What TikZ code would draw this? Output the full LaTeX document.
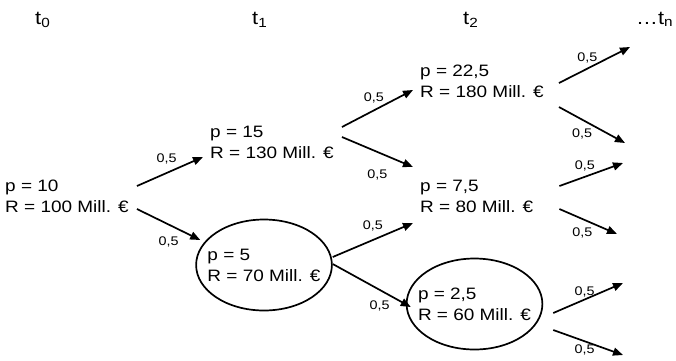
\documentclass[tikz,border=0pt]{standalone}
\usepackage{fontspec}
\setmainfont{Liberation Sans}[FakeStretch=1.15]
\usetikzlibrary{shapes.geometric, arrows.meta}
\tikzstyle{state} = [align=left, inner sep=0pt, anchor=west, font=\fontsize{16.5}{21}\selectfont]
\tikzstyle{chance} = [ellipse, draw=black, line width=1.7pt, minimum height=91pt, inner xsep=-8.5pt, inner ysep=0pt, align=left, font=\fontsize{16.5}{21}\selectfont]
\tikzstyle{period} = [anchor=base west, inner sep=0pt, font=\fontsize{19}{21}\selectfont]
\tikzstyle{prob} = [inner sep=2pt, font=\fontsize{12.5}{14}\selectfont]
\tikzstyle{arrow} = [line width=1.7pt,->,>={Triangle[length=10pt,width=8pt]}]

\begin{document}
\begin{tikzpicture}[x=1pt, y=-1pt]
		\useasboundingbox (0,0) rectangle (676,360);
		% Time steps
		\node (t0) [period] at (35,24) {t\textsubscript{0}};
		\node (t1) [period] at (252,24) {t\textsubscript{1}};
		\node (t2) [period] at (463,24) {t\textsubscript{2}};
		\node (tn) [period] at (636,24) {…t\textsubscript{n}};

		% States
		\node (root) [state] at (5,196.6) {p = 10\\R = 100 Mill. €};
		\node (up) [state] at (210,142) {p = 15\\R = 130 Mill. €};
		\node (down) [chance] at (264,265) {p = 5\\R = 70 Mill. €};
		\node (upup) [state] at (420,81.6) {p = 22,5\\R = 180 Mill. €};
		\node (mid) [state] at (420,196.6) {p = 7,5\\R = 80 Mill. €};
		\node (downdown) [chance] at (474.5,304) {p = 2,5\\R = 60 Mill. €};

		\coordinate (e1) at (630,47);
		\coordinate (e2) at (625,143);
		\coordinate (e3) at (623,163);
		\coordinate (e4) at (617,234);
		\coordinate (e5) at (623,283);
		\coordinate (e6) at (623,355);

		% t0 -> t1
		\draw [arrow] ([shift={(8,-10.6)}]root.east) -- node[prob, above=6pt, pos=.45] {0,5} ([shift={(-7,15)}]up.west);
		\draw [arrow] ([shift={(8,12.4)}]root.east) -- node[prob, below=9pt, pos=.5] {0,5} ([shift={(5,-25)}]down.west);
		% t1 -> t2
		\draw [arrow] ([shift={(8,-15)}]up.east) -- node[prob, above=4pt, pos=.45] {0,5} ([shift={(-7,8.4)}]upup.west);
		\draw [arrow] ([shift={(8,-5)}]up.east) -- node[prob, below=15pt, pos=.5] {0,5} ([shift={(-7,-29.6)}]mid.west);
		\draw [arrow] ([shift={(0,-8)}]down.east) -- node[prob, above=6pt, pos=.5] {0,5} ([shift={(-7,26.4)}]mid.west);
		\draw [arrow] ([shift={(0,-1)}]down.east) -- node[prob, below=8pt, pos=.6] {0,5} ([shift={(5,3)}]downdown.west);
		% t2 -> tn
		\draw [arrow] ([shift={(15,1.4)}]upup.east) -- node[prob, above=3pt, pos=.4] {0,5} (e1);
		\draw [arrow] ([shift={(15,25.4)}]upup.east) -- node[prob, below=6pt, pos=.35] {0,5} (e2);
		\draw [arrow] ([shift={(26,-10.6)}]mid.east) -- node[prob, above=3pt, pos=.4] {0,5} (e3);
		\draw [arrow] ([shift={(26,12.4)}]mid.east) -- node[prob, below=6pt, pos=.4] {0,5} (e4);
		\draw [arrow] ([shift={(10,9)}]downdown.east) -- node[prob, above=0pt, pos=.45] {0,5} (e5);
		\draw [arrow] ([shift={(10,26)}]downdown.east) -- node[prob, below=1pt, pos=.45] {0,5} (e6);
	\end{tikzpicture}
\end{document}
